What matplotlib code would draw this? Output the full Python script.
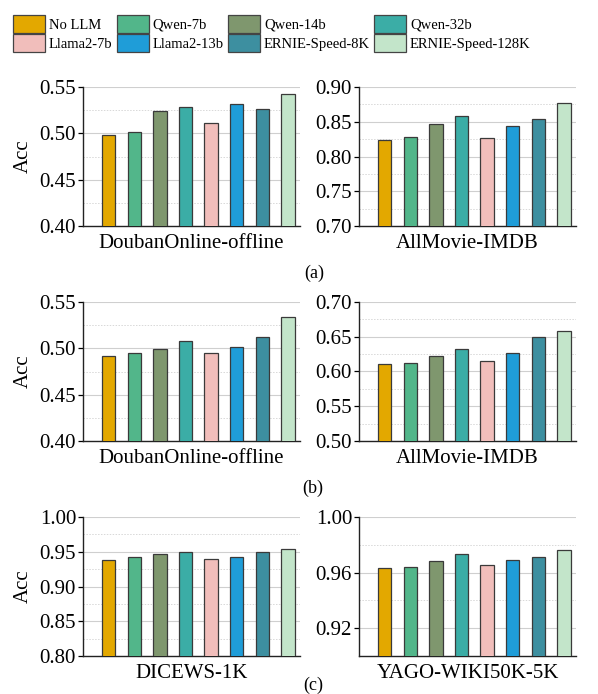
import numpy as np
import matplotlib
matplotlib.use("Agg")
from matplotlib import pyplot as plt
from matplotlib.patches import Patch
from matplotlib.ticker import MultipleLocator, FormatStrFormatter

plt.rcParams['font.family'] = ['Liberation Serif', 'DejaVu Serif']

models = ["No LLM", "Qwen-7b", "Qwen-14b", "Qwen-32b",
          "Llama2-7b", "Llama2-13b", "ERNIE-Speed-8K", "ERNIE-Speed-128K"]
colors = ["#E3A800", "#52B68A", "#7F976E", "#3BADA6",
          "#F1BEBB", "#1F9DD8", "#3D8FA0", "#C3E5CA"]

# (a)
douban_a = [0.4978, 0.5011, 0.5237, 0.5288, 0.5112, 0.5320, 0.5266, 0.5421]
allmovie_a = [0.8243, 0.8286, 0.8462, 0.8581, 0.8267, 0.8433, 0.8543, 0.8771]
# (b)
douban_b = [0.4921, 0.4950, 0.4993, 0.5079, 0.4950, 0.5010, 0.5119, 0.5338]
allmovie_b = [0.6115, 0.6125, 0.6216, 0.6317, 0.6149, 0.6264, 0.6490, 0.6577]
# (c)
dicews_c = [0.9386, 0.9419, 0.9467, 0.9495, 0.9395, 0.9420, 0.9490, 0.9533]
yago_c = [0.9633, 0.9642, 0.9682, 0.9732, 0.9652, 0.9692, 0.9713, 0.9760]

panels = [
    # data, xlabel, ylim, major step, minor step, ylabel
    (douban_a, "DoubanOnline-offline", (0.40, 0.55), 0.05, 0.025, True),
    (allmovie_a, "AllMovie-IMDB", (0.70, 0.90), 0.05, 0.025, False),
    (douban_b, "DoubanOnline-offline", (0.40, 0.55), 0.05, 0.025, True),
    (allmovie_b, "AllMovie-IMDB", (0.50, 0.70), 0.05, 0.025, False),
    (dicews_c, "DICEWS-1K", (0.80, 1.00), 0.05, 0.025, True),
    (yago_c, "YAGO-WIKI50K-5K", (0.90, 1.00), 0.04, 0.02, False),
]

W, H = 598, 694
fig = plt.figure(figsize=(W / 100, H / 100), dpi=100)

lefts = [83, 359]
tops = [87, 302, 517]
aw, ah = 217, 139

x = np.arange(len(models))
for i, (vals, xl, yl, maj, mnr, show_ylab) in enumerate(panels):
    row, col = divmod(i, 2)
    ax = fig.add_axes([lefts[col] / W, 1 - (tops[row] + ah) / H, aw / W, ah / H])
    ax.bar(x, vals, width=0.52, color=colors, edgecolor="#3a3a3a", linewidth=0.9, zorder=3)
    ax.set_xlim(-1.0, 7.47)
    ax.set_ylim(*yl)
    if maj == 0.04:
        ax.set_yticks([0.92, 0.96, 1.00])
    else:
        ax.yaxis.set_major_locator(MultipleLocator(maj))
    ax.yaxis.set_minor_locator(MultipleLocator(mnr))
    ax.yaxis.set_major_formatter(FormatStrFormatter("%.2f"))
    ax.grid(axis="y", which="major", color="#cfcfcf", linewidth=0.8, zorder=0)
    ax.grid(axis="y", which="minor", color="#d8d8d8", linewidth=0.7, linestyle=(0, (1.5, 1.5)), zorder=0)
    ax.set_xticks([])
    ax.tick_params(axis="y", which="major", direction="out", length=3.5, width=0.9, labelsize=15, pad=1.5)
    ax.tick_params(axis="y", which="minor", length=0)
    for s in ["top", "right"]:
        ax.spines[s].set_visible(False)
    for s in ["left", "bottom"]:
        ax.spines[s].set_linewidth(1.0)
        ax.spines[s].set_color("#222222")
    ax.set_xlabel(xl, fontsize=15, labelpad=6)
    if show_ylab:
        ax.set_ylabel("Acc", fontsize=15, labelpad=5)

for lab, (px, py) in zip(["(a)", "(b)", "(c)"], [(314, 273), (313, 488), (313, 685)]):
    fig.text(px / W, 1 - py / H, lab, fontsize=13, ha="center", va="center")

order = [0, 4, 1, 5, 2, 6, 3, 7]
handles = [Patch(facecolor=colors[k], edgecolor="#444444", linewidth=0.9, label=models[k]) for k in order]
fig.legend(handles=handles, ncol=4, loc="upper left", bbox_to_anchor=(3 / W, 1 - 5 / H),
           frameon=False, fontsize=10.5, handlelength=2.2, handleheight=1.45,
           handletextpad=0.25, columnspacing=0.3, labelspacing=0.12, borderpad=0.2)

fig.savefig("out.png", dpi=100)
